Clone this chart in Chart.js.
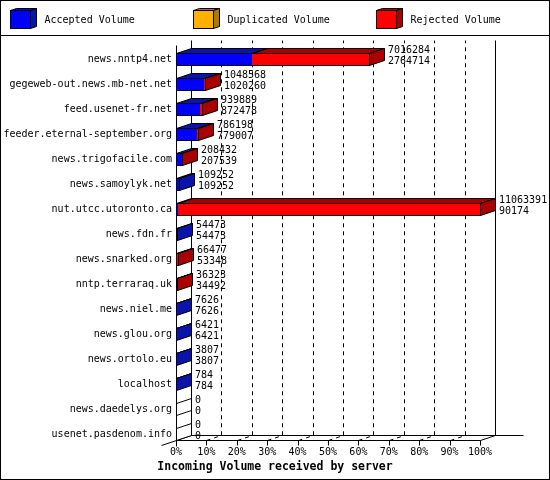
<!DOCTYPE html>
<html><head><meta charset="utf-8">
<script src="https://cdn.jsdelivr.net/npm/chart.js@4/dist/chart.umd.min.js"></script>
<style>html,body{margin:0;padding:0;background:#fff}canvas{display:block}</style>
</head><body>
<canvas id="c" width="550" height="480"></canvas>
<script>
const servers = ['news.nntp4.net','gegeweb-out.news.mb-net.net','feed.usenet-fr.net','feeder.eternal-september.org','news.trigofacile.com','news.samoylyk.net','nut.utcc.utoronto.ca','news.fdn.fr','news.snarked.org','nntp.terraraq.uk','news.niel.me','news.glou.org','news.ortolo.eu','localhost','news.daedelys.org','usenet.pasdenom.info'];
const totalVolume = [7016284,1048568,939889,786198,208432,109252,11063391,54473,66477,36323,7626,6421,3807,784,0,0];
const acceptedVolume = [2764714,1020260,872478,779007,207539,109252,90174,54473,53348,34492,7626,6421,3807,784,0,0];
const duplicatedVolume = [0,0,0,0,0,0,0,0,0,0,0,0,0,0,0,0];
const rejectedVolume = [4251570,28308,67411,7191,893,0,10973217,0,13129,1831,0,0,0,0,0,0];
const tickLabels = ['0%','10%','20%','30%','40%','50%','60%','70%','80%','90%','100%'];
const axisTitle = 'Incoming Volume received by server';
const scaleMax = 11063391;

const DX = 15, DY = 5;
const FAM = '"DejaVu Sans Mono", "Liberation Mono", monospace';
const FONT = '10px ' + FAM;
const pct = arr => arr.map(v => v * 100 / scaleMax);

function quad(ctx, pts, fill) {
  ctx.beginPath();
  ctx.moveTo(pts[0][0], pts[0][1]);
  for (let k = 1; k < pts.length; k++) ctx.lineTo(pts[k][0], pts[k][1]);
  ctx.closePath();
  if (fill) { ctx.fillStyle = fill; ctx.fill(); }
  ctx.stroke();
}
function line(ctx, x1, y1, x2, y2) {
  ctx.beginPath(); ctx.moveTo(x1, y1); ctx.lineTo(x2, y2); ctx.stroke();
}

const frame3d = {
  id: 'frame3d',
  beforeDraw(chart) {
    const ctx = chart.ctx;
    ctx.save();
    ctx.fillStyle = '#fff'; ctx.fillRect(0, 0, chart.width, chart.height);
    ctx.strokeStyle = '#000'; ctx.lineWidth = 1;
    ctx.strokeRect(0.5, 0.5, chart.width - 1, chart.height - 1);
    line(ctx, 0, 35.5, chart.width, 35.5);
    ctx.font = FONT; ctx.textBaseline = 'middle'; ctx.textAlign = 'left';
    chart.data.datasets.forEach((ds, i) => {
      const x = 10.5 + i * 183, y = 10.5, w = 20, h = 18;
      ctx.fillStyle = ds.backgroundColor; ctx.fillRect(x, y, w, h); ctx.strokeRect(x, y, w, h);
      quad(ctx, [[x, y], [x + w, y], [x + w + 6, y - 2], [x + 6, y - 2]], ds.sideColor);
      quad(ctx, [[x + w, y], [x + w + 6, y - 2], [x + w + 6, y + h - 2], [x + w, y + h]], ds.sideColor);
      ctx.fillStyle = '#000';
      ctx.fillText(ds.label, x + 34, 20);
    });
    // axis title centred on the image
    ctx.font = 'bold 11.5px ' + FAM; ctx.textAlign = 'center';
    ctx.fillText(axisTitle, chart.width / 2, 467.5);
    ctx.restore();
  },
  beforeDatasetsDraw(chart) {
    const ctx = chart.ctx, xs = chart.scales.x, ys = chart.scales.y;
    const n = ys.ticks.length;
    const x0 = Math.round(xs.getPixelForValue(0)) + 0.5;
    const x100 = Math.round(xs.getPixelForValue(100)) + 0.5;
    const floorF = Math.round(ys.getPixelForValue(n - 1) + 6) + 0.5;
    const floorB = floorF - DY;
    const topB = Math.floor(chart.chartArea.top) - 6 + 0.5;
    const topF = topB + DY;
    ctx.save();
    ctx.strokeStyle = '#000'; ctx.lineWidth = 1;
    ctx.setLineDash([4, 4]);
    xs.ticks.forEach(t => {
      if (t.value <= 0 || t.value >= 100) return;
      const xf = Math.round(xs.getPixelForValue(t.value)) + 0.5;
      ctx.beginPath();
      ctx.moveTo(xf, floorF); ctx.lineTo(xf + DX, floorB); ctx.lineTo(xf + DX, topB);
      ctx.stroke();
    });
    ctx.setLineDash([]);
    line(ctx, x0 + DX, topB, x0 + DX, floorB);
    line(ctx, x100 + DX, topB, x100 + DX, floorB);
    line(ctx, x0 + DX, floorB, x100 + DX + 28, floorB);
    line(ctx, x0, floorF, x100, floorF);
    line(ctx, x100, floorF, x100 + DX, floorB);
    line(ctx, x0 - DX, floorF + DY, x0 + DX, floorB);
    line(ctx, x0, topF, x0, floorF + 6);
    xs.ticks.forEach(t => {
      const xf = Math.round(xs.getPixelForValue(t.value)) + 0.5;
      line(ctx, xf, floorF, xf, floorF + 5);
    });
    ctx.restore();
  },
  beforeDatasetDraw() { return false; },
  afterDatasetsDraw(chart) {
    const ctx = chart.ctx, ys = chart.scales.y, xs = chart.scales.x;
    const dss = chart.data.datasets;
    const metas = dss.map((d, i) => chart.getDatasetMeta(i));
    const x0 = Math.round(xs.getPixelForValue(0));
    ctx.save();
    ctx.strokeStyle = '#000'; ctx.lineWidth = 1;
    ctx.font = FONT; ctx.textBaseline = 'middle'; ctx.textAlign = 'left';
    for (let j = 0; j < servers.length; j++) {
      let last = -1, endX = x0;
      const yc = ys.getPixelForValue(j);
      let T = Math.round(yc - 6), B = Math.round(yc + 6);
      for (let i = 0; i < dss.length; i++) {
        const v = dss[i].data[j];
        if (!v) continue;
        const el = metas[i].data[j];
        const p = el.getProps(['x', 'base', 'y', 'height'], true);
        const L = Math.round(Math.min(p.x, p.base)), R = Math.round(Math.max(p.x, p.base));
        T = Math.round(p.y - p.height / 2); B = Math.round(p.y + p.height / 2);
        ctx.fillStyle = dss[i].backgroundColor;
        ctx.fillRect(L, T, R - L, B - T);
        quad(ctx, [[L + .5, T + .5], [R + .5, T + .5], [R + .5 + DX, T + .5 - DY], [L + .5 + DX, T + .5 - DY]], dss[i].sideColor);
        last = i; endX = R;
      }
      const sc = last >= 0 ? dss[last].sideColor : '#fff';
      quad(ctx, [[endX + .5, T + .5], [endX + .5 + DX, T + .5 - DY], [endX + .5 + DX, B + .5 - DY], [endX + .5, B + .5]], sc);
      ctx.strokeRect(x0 + .5, T + .5, endX - x0, B - T);
      ctx.fillStyle = '#000';
      ctx.fillText(String(totalVolume[j]), endX + DX + 4, yc - 9);
      ctx.fillText(String(acceptedVolume[j]), endX + DX + 4, yc + 2);
    }
    ctx.restore();
  }
};

new Chart(document.getElementById('c'), {
  type: 'bar',
  data: {
    labels: servers,
    datasets: [
      { label: 'Accepted Volume', data: pct(acceptedVolume), backgroundColor: '#0000ff', sideColor: '#0a14aa' },
      { label: 'Duplicated Volume', data: pct(duplicatedVolume), backgroundColor: '#ffb000', sideColor: '#b07800' },
      { label: 'Rejected Volume', data: pct(rejectedVolume), backgroundColor: '#ff0000', sideColor: '#aa0000' }
    ]
  },
  options: {
    indexAxis: 'y',
    responsive: false,
    animation: false,
    devicePixelRatio: 1,
    barThickness: 12,
    layout: { padding: { top: 46.5, right: 70, bottom: 19.4, left: 0 } },
    scales: {
      x: {
        stacked: true, min: 0, max: 100,
        grid: { display: false, drawTicks: false }, border: { display: false },
        ticks: { stepSize: 10, padding: 0, color: '#000', font: { family: FAM, size: 10 },
          maxRotation: 0, autoSkip: false,
          callback: (v, i) => tickLabels[i] },
        afterFit: s => { s.height = 14.1; }
      },
      y: {
        stacked: true,
        grid: { display: false, drawTicks: false }, border: { display: false },
        ticks: { padding: 4, color: '#000', font: { family: FAM, size: 10 }, autoSkip: false },
        afterFit: s => { s.width = 176; }
      }
    },
    plugins: {
      legend: { display: false },
      tooltip: { enabled: false },
      title: { display: false }
    }
  },
  plugins: [frame3d]
});
</script>
</body></html>
